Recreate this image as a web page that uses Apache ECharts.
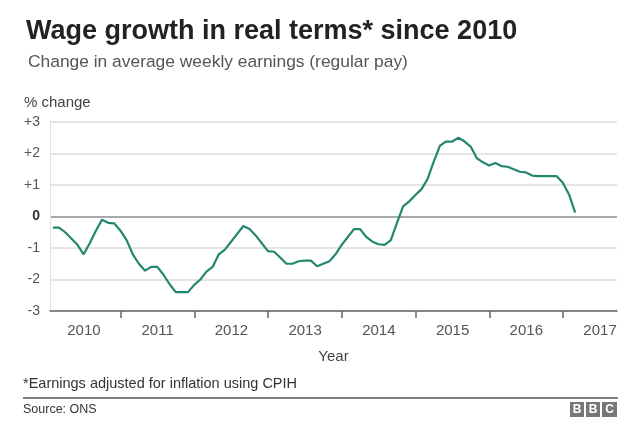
<!DOCTYPE html>
<html>
<head>
<meta charset="utf-8">
<script src="https://cdn.jsdelivr.net/npm/echarts@6/dist/echarts.min.js"></script>
<style>
html,body{margin:0;padding:0;background:#fff;}
#chart{width:640px;height:431px;}
</style>
</head>
<body>
<div id="chart"></div>
<script>
// Monthly real wage growth (%), starting Jan 2010
var startYear = 2010;
var values = [
  -0.35, -0.35, -0.5, -0.7, -0.9, -1.2, -0.85, -0.45, -0.1, -0.2, -0.22, -0.45,
  -0.75, -1.2, -1.5, -1.72, -1.6, -1.6, -1.85, -2.15, -2.4, -2.4, -2.4, -2.17,
  -2.0, -1.75, -1.6, -1.2, -1.05, -0.8, -0.55, -0.3, -0.4, -0.6, -0.85, -1.1,
  -1.12, -1.3, -1.5, -1.5, -1.42, -1.4, -1.4, -1.58, -1.5, -1.42, -1.2, -0.9,
  -0.65, -0.4, -0.4, -0.65, -0.8, -0.88, -0.9, -0.75, -0.2, 0.32, 0.48, 0.68,
  0.87, 1.2, 1.75, 2.25, 2.38, 2.38, 2.5, 2.38, 2.22, 1.85, 1.72, 1.62,
  1.7, 1.6, 1.58, 1.5, 1.42, 1.4, 1.3, 1.28, 1.28, 1.28, 1.28, 1.07,
  0.7, 0.12
];
var yearLabels = ['2010', '2011', '2012', '2013', '2014', '2015', '2016', '2017'];

var FONT = "'Liberation Sans', Arial, Helvetica, sans-serif";
var seriesData = values.map(function (v, i) {
  return [startYear + (i + 0.95) / 12, v];
});
var tickYears = yearLabels.slice(1).map(function (y) { return +y; });
var labelPos = yearLabels.map(function (y) { return +y + 0.5; });

var chart = echarts.init(document.getElementById('chart'), null, { renderer: 'canvas' });
chart.setOption({
  animation: false,
  backgroundColor: '#fff',
  textStyle: { fontFamily: FONT },
  grid: { left: 50, right: 23, top: 122, bottom: 120, containLabel: false },
  xAxis: {
    type: 'value',
    min: 2010.04,
    max: 2017.73,
    name: 'Year',
    nameLocation: 'middle',
    nameGap: 38,
    nameTextStyle: { color: '#444', fontSize: 15, fontFamily: FONT },
    axisLine: { show: true, onZero: false, lineStyle: { color: '#666', width: 1.5 } },
    axisTick: { show: true, customValues: tickYears, length: 7, lineStyle: { color: '#666', width: 1.5 } },
    axisLabel: {
      customValues: labelPos,
      margin: 12,
      color: '#555',
      fontSize: 15,
      fontFamily: FONT,
      formatter: function (v) { return String(Math.floor(v)); }
    },
    splitLine: { show: false }
  },
  yAxis: {
    type: 'value',
    min: -3,
    max: 3,
    interval: 1,
    axisLine: { show: true, lineStyle: { color: '#e0e0e0', width: 1 } },
    axisTick: { show: false },
    axisLabel: {
      margin: 10,
      color: '#555',
      fontSize: 14,
      fontFamily: FONT,
      formatter: function (v) {
        if (v === 0) return '{z|0}';
        return v > 0 ? '+' + v : String(v);
      },
      rich: { z: { fontWeight: 'bold', color: '#333', fontSize: 14, fontFamily: FONT } }
    },
    splitLine: {
      show: true,
      lineStyle: { color: ['#dddddd', '#dddddd', '#dddddd', '#8c8c8c', '#dddddd', '#dddddd', '#dddddd'], width: 1.5 }
    }
  },
  series: [{
    type: 'line',
    data: seriesData,
    showSymbol: false,
    symbol: 'none',
    lineStyle: { color: '#23876f', width: 2.2 },
    z: 5
  }],
  graphic: [
    { type: 'text', left: 26, top: 18, style: { text: 'Wage growth in real terms* since 2010', fontSize: 27, fontWeight: 'bold', fill: '#222', fontFamily: FONT } },
    { type: 'text', left: 28, top: 54, style: { text: 'Change in average weekly earnings (regular pay)', fontSize: 17.4, fill: '#555', fontFamily: FONT } },
    { type: 'text', left: 24, top: 95, style: { text: '% change', fontSize: 15, fill: '#444', fontFamily: FONT } },
    { type: 'text', left: 23, top: 376, style: { text: '*Earnings adjusted for inflation using CPIH', fontSize: 14.5, fill: '#333', fontFamily: FONT } },
    { type: 'line', shape: { x1: 23, y1: 398, x2: 618, y2: 398 }, style: { stroke: '#555', lineWidth: 1.5 } },
    { type: 'text', left: 23, top: 403, style: { text: 'Source: ONS', fontSize: 12.5, fill: '#333', fontFamily: FONT } },
    { type: 'rect', shape: { x: 570, y: 402, width: 14, height: 15 }, style: { fill: '#777' } },
    { type: 'rect', shape: { x: 586, y: 402, width: 14, height: 15 }, style: { fill: '#777' } },
    { type: 'rect', shape: { x: 602, y: 402, width: 15, height: 15 }, style: { fill: '#777' } },
    { type: 'text', x: 577, y: 409.5, style: { text: 'B', fontSize: 12, fontWeight: 'bold', fill: '#fff', align: 'center', verticalAlign: 'middle', fontFamily: FONT } },
    { type: 'text', x: 593, y: 409.5, style: { text: 'B', fontSize: 12, fontWeight: 'bold', fill: '#fff', align: 'center', verticalAlign: 'middle', fontFamily: FONT } },
    { type: 'text', x: 609.5, y: 409.5, style: { text: 'C', fontSize: 12, fontWeight: 'bold', fill: '#fff', align: 'center', verticalAlign: 'middle', fontFamily: FONT } }
  ]
});
</script>
</body>
</html>
